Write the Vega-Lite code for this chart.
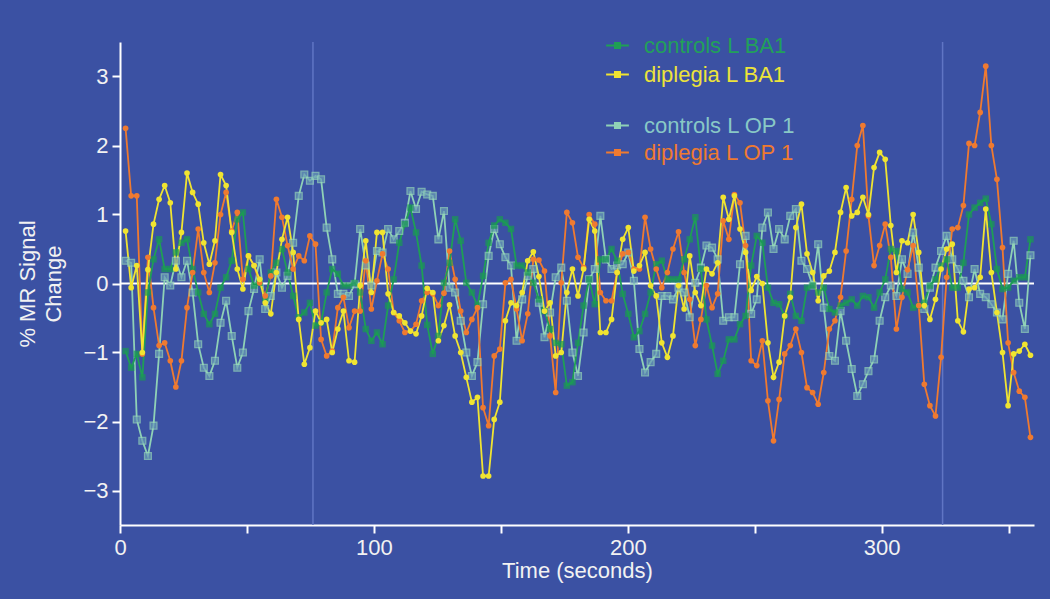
{
"$schema": "https://vega.github.io/schema/vega-lite/v6.json",
"width": 914, "height": 483,
"autosize": {"type": "none"},
"padding": {"left": 120, "top": 42, "right": 16, "bottom": 74},
"background": "#3b51a3",
"config": {
  "view": {"stroke": null},
  "font": "Liberation Sans",
  "axis": {"domainColor": "#ffffff", "domainWidth": 2, "tickColor": "#ffffff", "tickWidth": 2, "tickSize": 8, "labelColor": "#f2f2f2", "labelFontSize": 22, "labelPadding": 4, "titleColor": "#f2f2f2", "titleFontSize": 22, "titleFontWeight": "normal", "grid": false, "labelFlush": false},
  "axisX": {"titlePadding": 2},
  "axisY": {"titlePadding": 17, "titleLineHeight": 26}
},
"datasets": {
"marks": [{"t": 76}, {"t": 324}],
"ts": [
{"t":2.2,"cB":-0.98,"dB":0.76,"cO":0.33,"dO":2.25},
{"t":4.4,"cB":-1.22,"dB":-0.06,"cO":0.3,"dO":1.27},
{"t":6.6,"cB":-1.02,"dB":0.26,"cO":-1.97,"dO":1.27},
{"t":8.8,"cB":-1.36,"dB":-1.0,"cO":-2.28,"dO":-1.02},
{"t":11,"cB":-0.13,"dB":0.2,"cO":-2.5,"dO":0.38},
{"t":13.2,"cB":0.35,"dB":0.86,"cO":-2.06,"dO":-0.35},
{"t":15.4,"cB":0.64,"dB":1.22,"cO":-1.02,"dO":-0.9},
{"t":17.6,"cB":0.21,"dB":1.42,"cO":0.09,"dO":-0.86},
{"t":19.8,"cB":0.21,"dB":1.17,"cO":-0.03,"dO":-1.12},
{"t":22,"cB":0.45,"dB":0.21,"cO":0.33,"dO":-1.5},
{"t":24.2,"cB":0.59,"dB":0.74,"cO":0.09,"dO":-1.12},
{"t":26.4,"cB":0.64,"dB":1.6,"cO":0.33,"dO":-0.35},
{"t":28.6,"cB":0.21,"dB":1.32,"cO":-0.13,"dO":0.16},
{"t":30.8,"cB":-0.13,"dB":1.15,"cO":-0.88,"dO":0.79},
{"t":33,"cB":-0.44,"dB":0.59,"cO":-1.22,"dO":0.16},
{"t":35.2,"cB":-0.59,"dB":0.28,"cO":-1.34,"dO":-0.13},
{"t":37.4,"cB":-0.44,"dB":0.62,"cO":-1.12,"dO":0.3},
{"t":39.6,"cB":-0.06,"dB":1.58,"cO":-0.57,"dO":1.0},
{"t":41.8,"cB":0.09,"dB":1.42,"cO":-0.25,"dO":1.32},
{"t":44,"cB":0.33,"dB":0.74,"cO":-0.76,"dO":0.76},
{"t":46.2,"cB":0.93,"dB":0.21,"cO":-1.22,"dO":1.03},
{"t":48.4,"cB":1.03,"dB":-0.08,"cO":-1.0,"dO":0.06},
{"t":50.6,"cB":0.21,"dB":0.4,"cO":-0.4,"dO":0.4},
{"t":52.8,"cB":-0.03,"dB":0.26,"cO":-0.08,"dO":0.26},
{"t":55,"cB":0.01,"dB":0.06,"cO":0.35,"dO":0.01},
{"t":57.2,"cB":-0.23,"dB":-0.28,"cO":-0.37,"dO":-0.18},
{"t":59.4,"cB":0.16,"dB":-0.44,"cO":-0.18,"dO":0.11},
{"t":61.6,"cB":0.3,"dB":0.16,"cO":0.16,"dO":1.22},
{"t":63.8,"cB":0.5,"dB":0.64,"cO":-0.06,"dO":0.96},
{"t":66,"cB":0.16,"dB":0.96,"cO":0.11,"dO":0.55},
{"t":68.2,"cB":-0.18,"dB":0.45,"cO":0.59,"dO":0.21},
{"t":70.4,"cB":-0.49,"dB":-0.52,"cO":1.27,"dO":0.4},
{"t":72.6,"cB":-0.42,"dB":-1.17,"cO":1.58,"dO":0.33},
{"t":74.8,"cB":-0.28,"dB":-0.93,"cO":1.49,"dO":0.69},
{"t":77,"cB":-0.61,"dB":-0.4,"cO":1.56,"dO":0.57},
{"t":79.2,"cB":-0.57,"dB":-0.57,"cO":1.51,"dO":-0.81},
{"t":81.4,"cB":-0.13,"dB":-0.52,"cO":0.81,"dO":-1.05},
{"t":83.6,"cB":0.21,"dB":-1.0,"cO":0.35,"dO":-0.98},
{"t":85.8,"cB":0.14,"dB":-0.66,"cO":-0.15,"dO":-0.35},
{"t":88,"cB":-0.03,"dB":-0.4,"cO":-0.15,"dO":-0.2},
{"t":90.2,"cB":-0.03,"dB":-1.12,"cO":-0.18,"dO":-0.64},
{"t":92.4,"cB":0.01,"dB":-1.14,"cO":-0.01,"dO":-0.4},
{"t":94.6,"cB":-0.13,"dB":-0.03,"cO":0.79,"dO":-0.4},
{"t":96.8,"cB":-0.66,"dB":0.62,"cO":0.26,"dO":0.33},
{"t":99,"cB":-0.83,"dB":-0.13,"cO":-0.03,"dO":-0.37},
{"t":101.2,"cB":-0.71,"dB":0.74,"cO":0.47,"dO":0.04},
{"t":103.4,"cB":-0.88,"dB":0.74,"cO":0.45,"dO":0.43},
{"t":105.6,"cB":-0.32,"dB":-0.15,"cO":0.79,"dO":0.21},
{"t":107.8,"cB":0.06,"dB":-0.42,"cO":0.64,"dO":-0.42},
{"t":110,"cB":0.59,"dB":-0.47,"cO":0.76,"dO":-0.54},
{"t":112.2,"cB":0.86,"dB":-0.57,"cO":0.88,"dO":-0.71},
{"t":114.4,"cB":1.1,"dB":-0.69,"cO":1.34,"dO":-0.69},
{"t":116.6,"cB":0.74,"dB":-0.73,"cO":1.08,"dO":-0.59},
{"t":118.8,"cB":0.26,"dB":-0.47,"cO":1.33,"dO":-0.25},
{"t":121,"cB":-0.6,"dB":-0.07,"cO":1.29,"dO":-0.13},
{"t":123.2,"cB":-1.02,"dB":-0.13,"cO":1.27,"dO":-0.15},
{"t":125.4,"cB":-0.76,"dB":-0.83,"cO":0.64,"dO":-0.32},
{"t":127.6,"cB":0.01,"dB":-0.61,"cO":1.05,"dO":-0.14},
{"t":129.8,"cB":0.3,"dB":-0.31,"cO":-0.06,"dO":0.47},
{"t":132,"cB":0.93,"dB":-0.76,"cO":-0.13,"dO":0.06},
{"t":134.2,"cB":0.62,"dB":-1.0,"cO":-0.54,"dO":-0.4},
{"t":136.4,"cB":0.01,"dB":-1.36,"cO":-1.0,"dO":-0.71},
{"t":138.6,"cB":-0.13,"dB":-1.72,"cO":-1.34,"dO":-0.52},
{"t":140.8,"cB":-0.32,"dB":-1.65,"cO":-1.14,"dO":-0.35},
{"t":143,"cB":0.11,"dB":-2.79,"cO":-0.3,"dO":-1.8},
{"t":145.2,"cB":0.59,"dB":-2.79,"cO":0.4,"dO":-2.06},
{"t":147.4,"cB":0.84,"dB":-1.97,"cO":0.79,"dO":-1.05},
{"t":149.6,"cB":0.93,"dB":-1.72,"cO":0.57,"dO":-0.95},
{"t":151.8,"cB":0.88,"dB":-0.54,"cO":0.38,"dO":0.01},
{"t":154,"cB":0.79,"dB":-0.28,"cO":0.26,"dO":0.06},
{"t":156.2,"cB":0.26,"dB":-0.32,"cO":-0.83,"dO":-0.37},
{"t":158.4,"cB":0.26,"dB":-0.13,"cO":-0.23,"dO":-0.83},
{"t":160.6,"cB":0.16,"dB":0.33,"cO":0.11,"dO":-0.44},
{"t":162.8,"cB":0.01,"dB":0.46,"cO":0.21,"dO":0.35},
{"t":165,"cB":-0.23,"dB":0.1,"cO":-0.28,"dO":0.34},
{"t":167.2,"cB":-0.4,"dB":-0.4,"cO":-0.78,"dO":0.18},
{"t":169.4,"cB":-0.66,"dB":-0.28,"cO":-0.42,"dO":-0.76},
{"t":171.6,"cB":-0.86,"dB":-1.05,"cO":0.09,"dO":-1.58},
{"t":173.8,"cB":-0.88,"dB":-1.0,"cO":0.23,"dO":0.01},
{"t":176,"cB":-1.48,"dB":-0.13,"cO":-0.25,"dO":1.03},
{"t":178.2,"cB":-1.43,"dB":0.21,"cO":-1.0,"dO":0.88},
{"t":180.4,"cB":-0.86,"dB":-0.18,"cO":-1.34,"dO":0.38},
{"t":182.6,"cB":-0.32,"dB":0.21,"cO":-0.71,"dO":0.23},
{"t":184.8,"cB":0.06,"dB":0.93,"cO":0.06,"dO":1.0},
{"t":187,"cB":-0.3,"dB":0.76,"cO":0.21,"dO":0.86},
{"t":189.2,"cB":0.35,"dB":-0.71,"cO":0.98,"dO":-0.13},
{"t":191.4,"cB":0.35,"dB":-0.71,"cO":0.35,"dO":-0.25},
{"t":193.6,"cB":0.5,"dB":-0.52,"cO":0.21,"dO":-0.25},
{"t":195.8,"cB":0.33,"dB":0.16,"cO":0.26,"dO":0.16},
{"t":198,"cB":-0.15,"dB":0.64,"cO":0.28,"dO":0.43},
{"t":200.2,"cB":-0.44,"dB":0.81,"cO":0.45,"dO":0.45},
{"t":202.4,"cB":-0.78,"dB":0.18,"cO":0.04,"dO":0.21},
{"t":204.6,"cB":-0.69,"dB":0.26,"cO":-0.95,"dO":0.21},
{"t":206.8,"cB":-0.44,"dB":0.45,"cO":-1.29,"dO":0.96},
{"t":209,"cB":-0.13,"dB":-0.03,"cO":-1.14,"dO":0.5},
{"t":211.2,"cB":0.28,"dB":-0.18,"cO":-1.02,"dO":0.21},
{"t":213.4,"cB":0.33,"dB":-0.86,"cO":-0.18,"dO":-0.06},
{"t":215.6,"cB":0.06,"dB":-1.07,"cO":-0.18,"dO":0.16},
{"t":217.8,"cB":0.06,"dB":-0.76,"cO":-0.23,"dO":0.5},
{"t":220,"cB":0.06,"dB":-0.03,"cO":-0.06,"dO":0.75},
{"t":222.2,"cB":0.35,"dB":-0.37,"cO":-0.13,"dO":0.16},
{"t":224.4,"cB":0.64,"dB":0.4,"cO":-0.49,"dO":-0.23},
{"t":226.6,"cB":0.96,"dB":-0.13,"cO":0.01,"dO":-0.9},
{"t":228.8,"cB":0.21,"dB":-0.32,"cO":0.23,"dO":-0.52},
{"t":231,"cB":-0.52,"dB":0.21,"cO":0.55,"dO":-0.03},
{"t":233.2,"cB":-0.9,"dB":0.14,"cO":0.52,"dO":-0.35},
{"t":235.4,"cB":-1.31,"dB":0.3,"cO":0.35,"dO":-0.15},
{"t":237.6,"cB":-1.12,"dB":1.25,"cO":-0.54,"dO":0.91},
{"t":239.8,"cB":-0.81,"dB":0.93,"cO":-0.49,"dO":0.64},
{"t":242,"cB":-0.81,"dB":1.27,"cO":-0.49,"dO":1.29},
{"t":244.2,"cB":-0.59,"dB":0.79,"cO":0.28,"dO":1.17},
{"t":246.4,"cB":-0.47,"dB":0.45,"cO":0.69,"dO":0.55},
{"t":248.6,"cB":0.26,"dB":-0.1,"cO":-0.44,"dO":-1.12},
{"t":250.8,"cB":0.69,"dB":0.1,"cO":-0.23,"dO":-1.19},
{"t":253,"cB":0.59,"dB":0.0,"cO":0.81,"dO":-0.83},
{"t":255.2,"cB":-0.06,"dB":-0.86,"cO":1.03,"dO":-1.7},
{"t":257.4,"cB":-0.28,"dB":-1.36,"cO":0.5,"dO":-2.28},
{"t":259.6,"cB":-0.3,"dB":-1.14,"cO":0.79,"dO":-1.68},
{"t":261.8,"cB":-0.47,"dB":-0.47,"cO":0.64,"dO":-1.02},
{"t":264,"cB":-0.15,"dB":-0.2,"cO":0.98,"dO":-0.9},
{"t":266.2,"cB":-0.47,"dB":0.81,"cO":1.08,"dO":-0.66},
{"t":268.4,"cB":-0.54,"dB":1.15,"cO":0.33,"dO":-1.0},
{"t":270.6,"cB":-0.06,"dB":0.43,"cO":0.21,"dO":-1.51},
{"t":272.8,"cB":-0.03,"dB":0.16,"cO":-0.03,"dO":-1.58},
{"t":275,"cB":-0.13,"dB":-0.25,"cO":0.57,"dO":-1.75},
{"t":277.2,"cB":-0.06,"dB":0.11,"cO":-0.35,"dO":-1.29},
{"t":279.4,"cB":-0.37,"dB":0.18,"cO":-1.05,"dO":-0.66},
{"t":281.6,"cB":-0.42,"dB":0.45,"cO":-1.12,"dO":-0.54},
{"t":283.8,"cB":-0.32,"dB":1.03,"cO":-0.4,"dO":-0.2},
{"t":286,"cB":-0.28,"dB":1.39,"cO":-0.83,"dO":0.47},
{"t":288.2,"cB":-0.23,"dB":0.98,"cO":-1.24,"dO":1.22},
{"t":290.4,"cB":-0.32,"dB":1.03,"cO":-1.63,"dO":2.0},
{"t":292.6,"cB":-0.18,"dB":1.25,"cO":-1.46,"dO":2.29},
{"t":294.8,"cB":-0.2,"dB":1.0,"cO":-1.27,"dO":0.98},
{"t":297,"cB":-0.35,"dB":1.68,"cO":-1.1,"dO":0.26},
{"t":299.2,"cB":-0.13,"dB":1.9,"cO":-0.54,"dO":0.55},
{"t":301.4,"cB":0.06,"dB":1.8,"cO":-0.2,"dO":0.86},
{"t":303.6,"cB":0.5,"dB":0.84,"cO":-0.03,"dO":0.38},
{"t":305.8,"cB":0.47,"dB":0.16,"cO":-0.18,"dO":-0.66},
{"t":308,"cB":-0.08,"dB":0.62,"cO":0.35,"dO":-0.2},
{"t":310.2,"cB":-0.13,"dB":0.59,"cO":0.14,"dO":0.2},
{"t":312.4,"cB":-0.35,"dB":1.0,"cO":0.74,"dO":0.55},
{"t":314.6,"cB":-0.32,"dB":0.45,"cO":0.23,"dO":-0.32},
{"t":316.8,"cB":-0.28,"dB":-0.32,"cO":-0.37,"dO":-1.46},
{"t":319,"cB":-0.03,"dB":-0.52,"cO":-0.06,"dO":-1.77},
{"t":321.2,"cB":0.06,"dB":-0.23,"cO":0.23,"dO":-1.92},
{"t":323.4,"cB":0.26,"dB":0.21,"cO":0.47,"dO":-1.07},
{"t":325.6,"cB":0.35,"dB":0.5,"cO":0.69,"dO":0.09},
{"t":327.8,"cB":-0.06,"dB":0.57,"cO":0.35,"dO":0.79},
{"t":330,"cB":-0.06,"dB":-0.54,"cO":0.21,"dO":0.81},
{"t":332.2,"cB":0.3,"dB":-0.7,"cO":0.04,"dO":1.13},
{"t":334.4,"cB":1.0,"dB":-0.08,"cO":-0.2,"dO":2.03},
{"t":336.6,"cB":1.1,"dB":-0.06,"cO":0.21,"dO":2.0},
{"t":338.8,"cB":1.17,"dB":0.09,"cO":-0.15,"dO":2.48},
{"t":341,"cB":1.23,"dB":1.08,"cO":-0.2,"dO":3.15},
{"t":343.2,"cB":0.86,"dB":0.16,"cO":-0.3,"dO":2.0},
{"t":345.4,"cB":0.21,"dB":-0.42,"cO":-0.42,"dO":1.51},
{"t":347.6,"cB":-0.08,"dB":-1.0,"cO":-0.52,"dO":0.52},
{"t":349.8,"cB":-0.06,"dB":-1.77,"cO":0.14,"dO":-0.86},
{"t":352,"cB":0.04,"dB":-1.02,"cO":0.62,"dO":-1.29},
{"t":354.2,"cB":0.09,"dB":-0.98,"cO":-0.28,"dO":-1.56},
{"t":356.4,"cB":0.09,"dB":-0.88,"cO":-0.66,"dO":-1.65},
{"t":358.6,"cB":0.64,"dB":-1.04,"cO":0.41,"dO":-2.23}
]},
"layer": [
  {"data": {"name": "marks"},
   "mark": {"type": "rule", "color": "#6075c4", "strokeWidth": 1.5},
   "encoding": {"x": {"field": "t", "type": "quantitative", "scale": {"domain": [0, 360], "nice": false, "zero": false}, "title": "Time (seconds)"}}},
  {"data": {"values": [{"v": 0}]},
   "mark": {"type": "rule", "color": "#ffffff", "strokeWidth": 2},
   "encoding": {"y": {"field": "v", "type": "quantitative", "scale": {"domain": [-3.5, 3.5], "nice": false}, "title": ["% MR Signal", "Change"]}}},
  {"data": {"name": "ts"},
   "transform": [{"fold": ["cO", "dO"], "as": ["series", "val"]}],
   "mark": {"type": "line", "strokeWidth": 1.8},
   "encoding": {
     "x": {"field": "t", "type": "quantitative", "scale": {"domain": [0, 360], "nice": false, "zero": false},
           "title": "Time (seconds)",
           "axis": {"values": [0, 50, 100, 150, 200, 250, 300, 350], "labelExpr": "datum.value % 100 == 0 ? datum.label : ''"}},
     "y": {"field": "val", "type": "quantitative", "scale": {"domain": [-3.5, 3.5], "nice": false},
           "title": ["% MR Signal", "Change"],
           "axis": {"values": [-3, -2, -1, 0, 1, 2, 3], "format": "d"}},
     "color": {"field": "series", "type": "nominal",
       "scale": {"domain": ["cO", "dO"], "range": ["#8fd1b6", "#ef7a30"]},
       "legend": {"orient": "none", "legendX": 485, "legendY": 71, "title": null, "padding": 0,
         "labelExpr": "datum.value == 'cO' ? 'controls L OP 1' : 'diplegia L OP 1'",
         "labelFontSize": 22, "labelFont": "Liberation Sans", "labelOffset": 14,
         "symbolType": "M-1,0H1M-0.22,-0.22H0.22V0.22H-0.22Z", "symbolSize": 520, "symbolStrokeWidth": 2,
         "rowPadding": 3,
         "encode": {
           "labels": {"update": {"fill": {"signal": "datum.value == 'cO' ? '#88c8c6' : '#ef7a30'"}}},
           "symbols": {"update": {"fill": {"signal": "datum.value == 'cO' ? '#8fd1b6' : '#ef7a30'"}, "stroke": {"signal": "datum.value == 'cO' ? '#8fd1b6' : '#ef7a30'"}}}
         }}}
   }},
  {"data": {"name": "ts"},
   "transform": [{"fold": ["cB", "dB"], "as": ["series", "val"]}],
   "mark": {"type": "line", "strokeWidth": 1.8},
   "encoding": {
     "x": {"field": "t", "type": "quantitative", "scale": {"domain": [0, 360], "nice": false, "zero": false}, "title": "Time (seconds)"},
     "y": {"field": "val", "type": "quantitative", "scale": {"domain": [-3.5, 3.5], "nice": false}, "title": ["% MR Signal", "Change"]},
     "color": {"field": "series", "type": "nominal",
       "scale": {"domain": ["cB", "dB"], "range": ["#1f9f55", "#f0e431"]},
       "legend": {"orient": "none", "legendX": 485, "legendY": -9, "title": null, "padding": 0,
         "labelExpr": "datum.value == 'cB' ? 'controls L BA1' : 'diplegia L BA1'",
         "labelFontSize": 22, "labelFont": "Liberation Sans", "labelOffset": 14,
         "symbolType": "M-1,0H1M-0.22,-0.22H0.22V0.22H-0.22Z", "symbolSize": 520, "symbolStrokeWidth": 2,
         "rowPadding": 5,
         "encode": {
           "labels": {"update": {"fill": {"signal": "datum.value == 'cB' ? '#22a05a' : '#ece33a'"}}},
           "symbols": {"update": {"fill": {"signal": "datum.value == 'cB' ? '#1f9f55' : '#f0e431'"}, "stroke": {"signal": "datum.value == 'cB' ? '#1f9f55' : '#f0e431'"}}}
         }}}
   }},
  {"data": {"name": "ts"},
   "mark": {"type": "square", "filled": true, "fill": "#6a9db6", "stroke": "#95d6b9", "strokeWidth": 1.3, "size": 46},
   "encoding": {"x": {"field": "t", "type": "quantitative", "title": "Time (seconds)"}, "y": {"field": "cO", "type": "quantitative", "title": ["% MR Signal", "Change"]}}},
  {"data": {"name": "ts"},
   "mark": {"type": "square", "filled": true, "color": "#1a9a52", "size": 42},
   "encoding": {"x": {"field": "t", "type": "quantitative", "title": "Time (seconds)"}, "y": {"field": "cB", "type": "quantitative", "title": ["% MR Signal", "Change"]}}},
  {"data": {"name": "ts"},
   "mark": {"type": "circle", "color": "#ef7a30", "size": 32, "opacity": 1},
   "encoding": {"x": {"field": "t", "type": "quantitative", "title": "Time (seconds)"}, "y": {"field": "dO", "type": "quantitative", "title": ["% MR Signal", "Change"]}}},
  {"data": {"name": "ts"},
   "mark": {"type": "circle", "color": "#f0e431", "size": 32, "opacity": 1},
   "encoding": {"x": {"field": "t", "type": "quantitative", "title": "Time (seconds)"}, "y": {"field": "dB", "type": "quantitative", "title": ["% MR Signal", "Change"]}}}
],
"resolve": {"scale": {"color": "independent"}}
}
